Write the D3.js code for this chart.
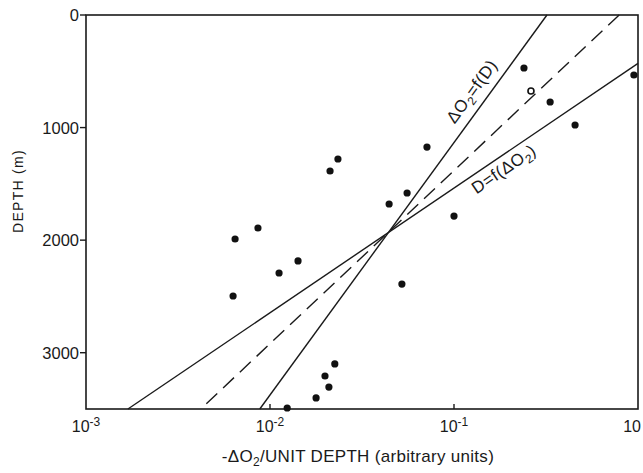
<!DOCTYPE html>
<meta charset="utf-8">
<script src="https://cdn.jsdelivr.net/npm/d3@7"></script>
<style>
  body{margin:0; background:#fff;}
  text{font-family:"Liberation Sans", Arial, sans-serif; fill:#1a1a1a;}
</style>
<div id="vis"></div>
<script>
// observations: -dO2 per unit depth vs depth (m)
const rate  = [0.95, 0.24, 0.262, 0.333, 0.455, 0.0713, 0.0234, 0.0212, 0.0556, 0.0444, 0.1,
               0.0086, 0.00646, 0.0142, 0.0112, 0.0521, 0.0063, 0.0225, 0.0199, 0.0209, 0.0178, 0.0124]
const depth = [533, 471, 675, 773, 977, 1173, 1279, 1386, 1581, 1679, 1786,
               1892, 1990, 2185, 2292, 2390, 2496, 3100, 3207, 3305, 3402, 3491]
const ringIndex = 2

// fitted lines, given by their two ends (upper-right end first)
const fitO2   = {rate: [0.32, 0.0088],  depth: [0, 3500]}     // dO2 = f(D)
const fitD    = {rate: [1.0, 0.00169],  depth: [430, 3500]}   // D = f(dO2)
const fitMean = {rate: [0.79, 0.0042],  depth: [0, 3500]}     // dashed

const xTicks   = [0.001, 0.01, 0.1, 1]
const xTickExp = ["-3", "-2", "-1", ""]
const yTicks   = [0, 1000, 2000, 3000]

margin = ({top: 15, right: 5, bottom: 64, left: 86})
W = 643, H = 473
width  = W - margin.left - margin.right
height = H - margin.top - margin.bottom

x = d3.scaleLog().domain([0.001, 1]).range([0, width])
y = d3.scaleLinear().domain([0, 3500]).range([0, height])

const svg = d3.select("#vis").append("svg")
    .attr("width", W).attr("height", H)
const g = svg.append("g").attr("transform", `translate(${margin.left},${margin.top})`)

// frame
g.append("rect")
  .attr("width", width).attr("height", height)
  .attr("fill", "none").attr("stroke", "#1a1a1a").attr("stroke-width", 1.6)

// y ticks (outward)
g.selectAll(".yt").data(yTicks).enter().append("line")
  .attr("x1", -6).attr("x2", 0)
  .attr("y1", d => y(d)).attr("y2", d => y(d))
  .attr("stroke", "#1a1a1a").attr("stroke-width", 1.4)
g.selectAll(".yl").data(yTicks).enter().append("text")
  .attr("x", -7).attr("y", d => y(d)).attr("dy", "0.38em")
  .attr("text-anchor", "end").attr("font-size", 16.5)
  .text(d => d)

// x ticks (inward)
g.selectAll(".xt").data(xTicks.slice(1, -1)).enter().append("line")
  .attr("x1", d => x(d)).attr("x2", d => x(d))
  .attr("y1", height).attr("y2", height - 5)
  .attr("stroke", "#1a1a1a").attr("stroke-width", 1.4)
const last = xTicks.length - 1
const xl = g.selectAll(".xl").data(xTicks).enter().append("text")
  .attr("x", (d, i) => i === last ? x(d) + 3 : x(d)).attr("y", height + 23)
  .attr("text-anchor", (d, i) => i === last ? "end" : "middle").attr("font-size", 16)
xl.append("tspan").text("10")
xl.append("tspan").attr("dy", -6).attr("font-size", 12)
  .text((d, i) => xTickExp[i])

// axis titles
const xt = svg.append("text")
  .attr("x", margin.left + 272).attr("y", 462)
  .attr("text-anchor", "middle").attr("font-size", 17)
  .attr("letter-spacing", 0.3)
xt.append("tspan").text("-ΔO")
xt.append("tspan").attr("dy", 4).attr("font-size", 12).text("2")
xt.append("tspan").attr("dy", -4).text("/UNIT DEPTH (arbitrary units)")

svg.append("text")
  .attr("transform", `translate(23,${margin.top + 176}) rotate(-90)`)
  .attr("text-anchor", "middle").attr("font-size", 14)
  .attr("letter-spacing", 1.3)
  .text("DEPTH (m)")

// fitted lines
const line = d3.line().x(d => x(d[0])).y(d => y(d[1]))
function pts(f) { return f.rate.map((r, i) => [r, f.depth[i]]) }
;[fitO2, fitD].forEach(f => {
  g.append("path").attr("d", line(pts(f)))
    .attr("fill", "none").attr("stroke", "#1a1a1a").attr("stroke-width", 1.4)
})
g.append("path").attr("d", line(pts(fitMean)))
  .attr("fill", "none").attr("stroke", "#1a1a1a").attr("stroke-width", 1.4)
  .attr("stroke-dasharray", "15,8")

// labels along lines
function onLine(f, d) {
  const t = (d - f.depth[0]) / (f.depth[1] - f.depth[0])
  const l0 = Math.log10(f.rate[0]), l1 = Math.log10(f.rate[1])
  return Math.pow(10, l0 + t * (l1 - l0))
}
function angle(f) {
  const dx = x(f.rate[0]) - x(f.rate[1]), dy = y(f.depth[0]) - y(f.depth[1])
  return Math.atan2(dy, dx) * 180 / Math.PI
}
const labels = [
  {fit: fitO2, at: 760, dy: -10, parts: [["ΔO", 0], ["2", 4], ["=f(D)", -4]]},
  {fit: fitD, at: 1279, dy: 18, parts: [["D=f(ΔO", 0], ["2", 4], [")", -4]]}
]
labels.forEach(l => {
  const t = g.append("text")
    .attr("transform", `translate(${x(onLine(l.fit, l.at))},${y(l.at)}) rotate(${angle(l.fit)})`)
    .attr("y", l.dy).attr("text-anchor", "middle").attr("font-size", 17)
    .attr("letter-spacing", 0.5)
  l.parts.forEach(p => {
    t.append("tspan").attr("dy", p[1]).attr("font-size", p[1] > 0 ? 12 : 17).text(p[0])
  })
})

// points
g.selectAll("circle").data(rate).enter().append("circle")
  .attr("cx", d => x(d))
  .attr("cy", (d, i) => y(depth[i]))
  .attr("r", (d, i) => i === ringIndex ? 3 : 3.6)
  .attr("fill", (d, i) => i === ringIndex ? "#fff" : "#111")
  .attr("stroke", "#111").attr("stroke-width", (d, i) => i === ringIndex ? 1.6 : 0)
</script>
